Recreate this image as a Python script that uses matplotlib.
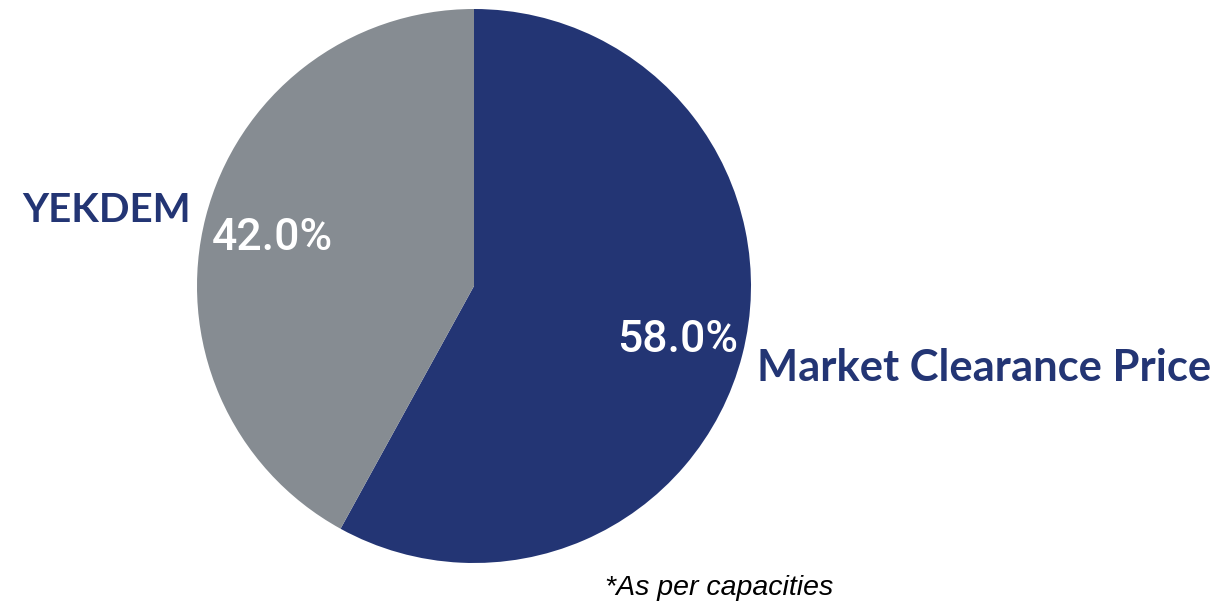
import matplotlib.pyplot as plt

# slice data (clockwise from top)
labels = ['Market Clearance Price', 'YEKDEM']
shares = [58.0, 42.0]
colors = ['#233574', '#868C92']
footnote = '*As per capacities'

W, H = 1223, 606
fig = plt.figure(figsize=(W / 100, H / 100), dpi=100)
ax = fig.add_axes([0, 0, 1, 1])

# pie in pixel coords (y measured from bottom)
cx, cy, r = 474, H - 286, 277
wedges, texts = ax.pie(shares, colors=colors, startangle=90, counterclock=False,
                       center=(cx, cy), radius=r, frame=True)
ax.set_xlim(0, W)
ax.set_ylim(0, H)
ax.axis('off')

# percent labels inside slices
ax.text(678, H - 340, f'{shares[0]:.1f}%', color='white', fontsize=32,
        family='Roboto', fontweight='medium', ha='center', va='center')
ax.text(272, H - 238, f'{shares[1]:.1f}%', color='white', fontsize=32,
        family='Roboto', fontweight='medium', ha='center', va='center')

# category labels outside
ax.text(757, H - 368, labels[0], color='#233574', fontsize=31.3, fontweight='bold',
        family='Lato', ha='left', va='center')
ax.text(22, H - 211, labels[1], color='#233574', fontsize=29, fontweight='bold',
        family='Lato', ha='left', va='center')

ax.text(605, H - 588, footnote, color='black', fontsize=20.5, style='italic',
        family='Liberation Sans', ha='left', va='center')

fig.savefig('out.png', dpi=100)
